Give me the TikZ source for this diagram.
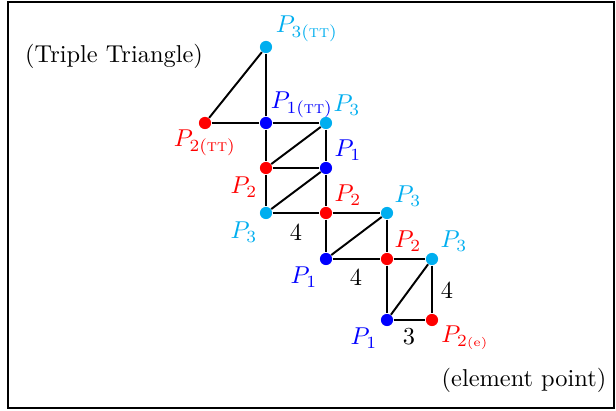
\documentclass[tikz,border=0pt]{standalone}
\usepackage{amsmath}
\usepackage{xcolor}
\usepackage{tikz}
\usetikzlibrary{positioning}
\definecolor{ptcyan}{RGB}{0,174,239}

\begin{document}
\begin{tikzpicture}[x=0.41pt,y=-0.41pt,
    dot/.style={circle, fill, inner sep=0pt, minimum size=5pt},
    edge/.style={line width=0.8pt}]
    % frame
    \useasboundingbox (0,0) rectangle (616,411);
    \draw[line width=1.1pt] (8,2) rectangle (614,408);
    \node (title) at (114,56) {(Triple Triangle)};
    \node (elem) at (524,380) {(element point)};

    % triple triangle
    \node[dot, ptcyan] (p3tt) at (266,47) {};
    \node[dot, red] (p2tt) at (205,123) {};
    \node[dot, blue] (p1tt) at (266,123) {};
    \node[text=ptcyan] (l3tt) at (307,29) {$P_{3(\textsc{tt})}$};
    \node[text=red] (l2tt) at (205,143) {$P_{2(\textsc{tt})}$};
    \node[text=blue] (l1tt) at (302,105) {$P_{1(\textsc{tt})}$};

    % chain of triangles
    \node[dot, ptcyan] (a3) at (326,123) {};
    \node[dot, blue] (a1) at (326,168) {};
    \node[dot, red] (a2) at (266,168) {};
    \node[dot, ptcyan] (b3) at (266,213) {};
    \node[dot, red] (b2) at (326,213) {};
    \node[dot, ptcyan] (c3) at (387,213) {};
    \node[dot, blue] (c1) at (326,259) {};
    \node[dot, red] (d2) at (387,259) {};
    \node[dot, ptcyan] (d3) at (432,259) {};
    \node[dot, blue] (d1) at (387,320) {};
    \node[dot, red] (e2) at (432,320) {};

    \node[text=ptcyan] (la3) at (347,105) {$P_3$};
    \node[text=blue] (la1) at (348,150) {$P_1$};
    \node[text=red] (la2) at (244,187) {$P_2$};
    \node[text=ptcyan] (lb3) at (244,232) {$P_3$};
    \node[text=red] (lb2) at (348,195) {$P_2$};
    \node[text=ptcyan] (lc3) at (408,196) {$P_3$};
    \node[text=blue] (lc1) at (304,277) {$P_1$};
    \node[text=red] (ld2) at (408,241) {$P_2$};
    \node[text=ptcyan] (ld3) at (454,241) {$P_3$};
    \node[text=blue] (ld1) at (364,338) {$P_1$};
    \node[text=red] (le2) at (465,338) {$P_{2{\scriptscriptstyle(\mathrm{e})}}$};

    % lengths
    \node (n1) at (296,232) {4};
    \node (n2) at (356,277) {4};
    \node (n3) at (447,290) {4};
    \node (n4) at (409,337) {3};

    \foreach \a/\b in {p3tt/p1tt, p3tt/p2tt, p2tt/p1tt, p1tt/a3, p1tt/a2,
        a3/a1, a2/a3, a2/a1, a2/b3, a1/b2, b3/a1, b3/b2, b2/c3, b2/c1,
        c1/c3, c3/d2, c1/d2, d2/d3, d2/d1, d1/d3, d3/e2, d1/e2}
        \draw[edge] (\a) -- (\b);
\end{tikzpicture}
\end{document}
